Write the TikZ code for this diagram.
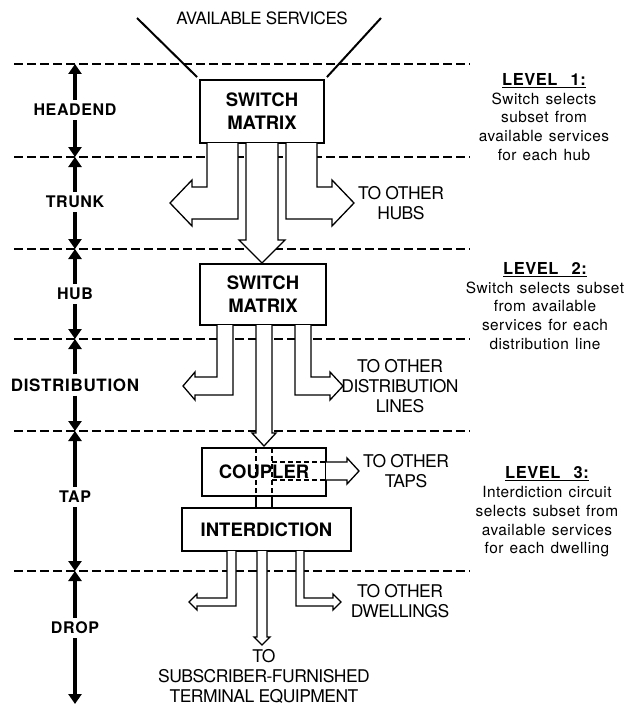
\documentclass[tikz,border=0pt]{standalone}
\usepackage{fontspec}
\setmainfont{TeX Gyre Heros}
\newfontfamily\labfont[LetterSpace=4]{TeX Gyre Heros}
\newfontfamily\tightfont[LetterSpace=-3]{TeX Gyre Heros}
\newfontfamily\notefont[LetterSpace=3,WordSpace=1.3]{TeX Gyre Heros}
\usetikzlibrary{arrows.meta}
\tikzset{
  divider/.style={line width=1.5pt, dash pattern=on 9pt off 4pt},
  axisarr/.style={line width=3.8pt, -{Triangle[length=10pt,width=13pt]}},
  lab/.style={font=\labfont\bfseries\fontsize{16}{18}\selectfont, inner sep=4pt},
  box/.style={draw, line width=1.8pt, align=center, inner sep=0pt,
    font=\bfseries\fontsize{18.5}{22}\selectfont, fill=white},
  hollow/.style={line width=1.3pt, fill=white, line join=miter},
  hollowdash/.style={line width=1.3pt, dash pattern=on 5pt off 3pt},
  feed/.style={line width=2pt},
  other/.style={font=\tightfont\fontsize{17.5}{20}\selectfont, align=center, inner sep=0pt},
  note/.style={font=\notefont\fontsize{15.4}{18.7}\selectfont, align=center, inner sep=0pt},
}
\newcommand\lvtitle[1]{\bfseries\fontsize{16.5}{18.7}\selectfont LEVEL\ \ #1:}
\begin{document}
\begin{tikzpicture}[x=1pt,y=-1pt]
\useasboundingbox (0,0) rectangle (625,706);

% level dividers
\foreach \yy in {64,157,249,339,431,571}{
  \draw[divider] (14,\yy) -- (470,\yy);
}

% axis coordinates
\coordinate (ax0) at (75,64);
\coordinate (ax1) at (75,157);
\coordinate (ax2) at (75,249);
\coordinate (ax3) at (75,339);
\coordinate (ax4) at (75,431);
\coordinate (ax5) at (75,571);
\coordinate (ax6) at (75,704);

% axis labels
\node[lab] (lHE) at (75,110) {HEADEND};
\node[lab] (lTR) at (75,202) {TRUNK};
\node[lab] (lHU) at (75,294) {HUB};
\node[lab, font=\labfont\bfseries\fontsize{17}{18}\selectfont] (lDI) at (75,385) {DISTRIBUTION};
\node[lab] (lTA) at (75,497) {TAP};
\node[lab] (lDR) at (75,628) {DROP};

\draw[axisarr] (lHE) -- (ax0);
\draw[axisarr] (lHE) -- (ax1);
\draw[axisarr] (lTR) -- (ax1);
\draw[axisarr] (lTR) -- (ax2);
\draw[axisarr] (lHU) -- (ax2);
\draw[axisarr] (lHU) -- (ax3);
\draw[axisarr] (lDI) -- (ax3);
\draw[axisarr] (lDI) -- (ax4);
\draw[axisarr] (lTA) -- (ax4);
\draw[axisarr] (lTA) -- (ax5);
\draw[axisarr] (lDR) -- (ax5);
\draw[axisarr] (lDR) -- (ax6);

% available services
\node[font=\tightfont\fontsize{17}{20}\selectfont, inner sep=0pt] (avail) at (262,18) {AVAILABLE SERVICES};
\node[box, minimum width=124pt, minimum height=63pt] (sw1) at (262,111.5) {SWITCH\\[1pt]MATRIX};
\coordinate (srcL) at (137,18);
\coordinate (srcR) at (381,18);
\draw[feed] (srcL) -- ([xshift=-2pt,yshift=2pt]sw1.north west);
\draw[feed] (srcR) -- ([xshift=2pt,yshift=2pt]sw1.north east);

% trunk arrows
\draw[hollow] (207,143) -- (207,187) -- (192,187) -- (192,180) -- (170,203) -- (192,226) -- (192,219) -- (238,219) -- (238,143);
\draw[hollow] (246,143) -- (246,240) -- (239,240) -- (262,263) -- (285,240) -- (278,240) -- (278,143);
\draw[hollow] (317,143) -- (317,187) -- (332,187) -- (332,180) -- (354,203) -- (332,226) -- (332,219) -- (286,219) -- (286,143);
\node[other] (hubs) at (401,203) {TO OTHER\\HUBS};

% hub switch
\node[box, minimum width=126pt, minimum height=61pt] (sw2) at (263,294.5) {SWITCH\\[1pt]MATRIX};

% distribution arrows
\draw[hollow] (217,325) -- (217,377) -- (195,377) -- (195,372) -- (183,386) -- (195,400) -- (195,395) -- (233,395) -- (233,325);
\draw[hollow] (256,325) -- (256,433) -- (252,433) -- (264,446) -- (276,433) -- (272,433) -- (272,325);
\draw[hollow] (311,325) -- (311,377) -- (330,377) -- (330,372) -- (343,386) -- (330,400) -- (330,395) -- (295,395) -- (295,325);
\node[other] (dist) at (400,386) {TO OTHER\\DISTRIBUTION\\LINES};

% coupler
\node[box, minimum width=124pt, minimum height=48pt] (coup) at (264,472) {COUPLER};
\draw[hollowdash] (256,448) -- (256,496);
\draw[hollowdash] (272,448) -- (272,496);
\draw[hollowdash] (272,462) -- (326,462);
\draw[hollowdash] (272,480) -- (326,480);
\draw[hollow] (326,462) -- (347,462) -- (347,458) -- (359,471) -- (347,484) -- (347,480) -- (326,480);
\node[other] (taps) at (406,471) {TO OTHER\\TAPS};

% interdiction
\node[box, minimum width=169pt, minimum height=43pt] (intd) at (266.5,529.5) {INTERDICTION};
\draw[line width=1.3pt] (256,496) -- (256,508);
\draw[line width=1.3pt] (272,496) -- (272,508);

% drop arrows
\draw[hollow] (227,551) -- (227,598) -- (197,598) -- (197,594) -- (189,602) -- (197,610) -- (197,606) -- (236,606) -- (236,551);
\draw[hollow] (257,551) -- (257,637) -- (254,637) -- (262,645) -- (270,637) -- (267,637) -- (267,551);
\draw[hollow] (304,551) -- (304,598) -- (333,598) -- (333,594) -- (341,602) -- (333,610) -- (333,606) -- (296,606) -- (296,551);
\node[other] (dwel) at (400,601) {TO OTHER\\DWELLINGS};
\node[other] (term) at (264,676) {TO\\SUBSCRIBER-FURNISHED\\TERMINAL EQUIPMENT};

% level notes
\node[note] (lev1) at (544,117) {\underline{\lvtitle{1}}\\Switch selects\\subset from\\available services\\for each hub};
\node[note] (lev2) at (545,306) {\underline{\lvtitle{2}}\\Switch selects subset\\from available\\services for each\\distribution line};
\node[note] (lev3) at (547,512) {\underline{\lvtitle{3}}\\Interdiction circuit\\selects subset from\\available services\\for each dwelling};
\end{tikzpicture}
\end{document}
